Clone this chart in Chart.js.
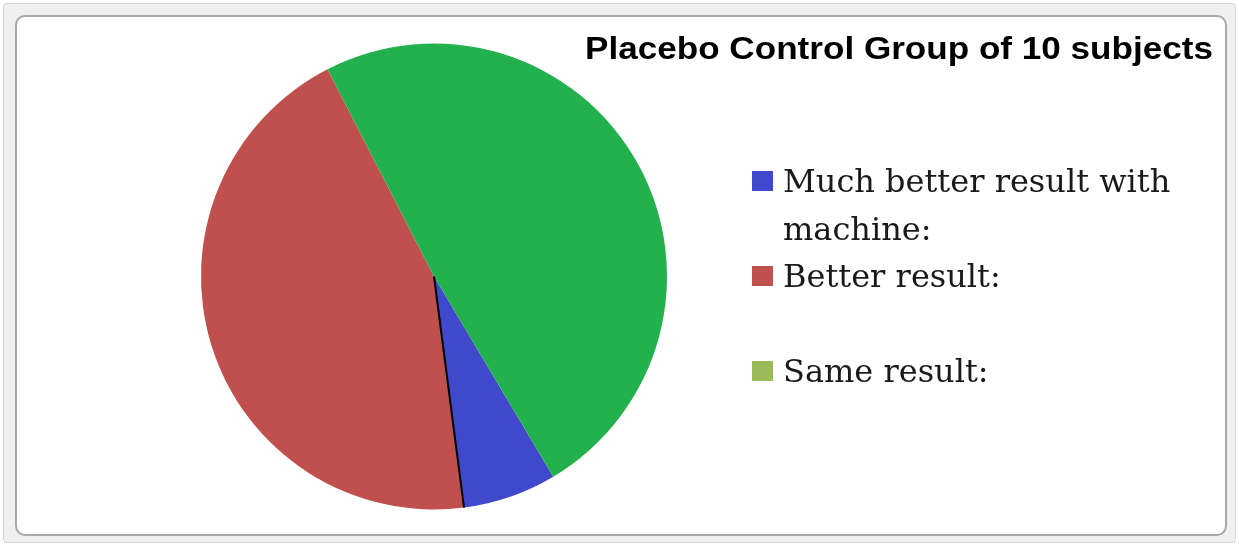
<!DOCTYPE html>
<html>
<head>
<meta charset="utf-8">
<script src="https://cdn.jsdelivr.net/npm/chart.js@4/dist/chart.umd.min.js"></script>
<style>
    html, body { margin: 0; padding: 0; background: #fff; }
    #wrap { position: relative; width: 1239px; height: 544px; overflow: hidden; }
    .outer { position: absolute; left: 3px; top: 3px; width: 1231px; height: 538px;
             background: #f0f0f0; border: 1px solid #d4d4d4; border-radius: 4px; }
    .inner { position: absolute; left: 15px; top: 15px; width: 1208px; height: 517px;
             background: #fff; border: 2px solid #a8a8a8; border-radius: 10px; }
    canvas { position: absolute; left: 0; top: 0; }
</style>
</head>
<body>
<div id="wrap">
    <div class="outer"></div>
    <div class="inner"></div>
    <canvas id="pie" width="1239" height="544"></canvas>
</div>
<script>
// Данные
const labels = [['Much better result with', 'machine:'], ['Better result:', ''], ['Same result:']];
const values = [6.5, 44.5, 49];
const sliceColors = ['#4049cc', '#c0504d', '#23b14d'];
const legendColors = ['#4049cc', '#c0504d', '#9bbb59'];
const title = 'Placebo Control Group of 10 subjects';

// Заголовок, легенда и чёрная линия на краю синего сектора
const decor = {
    id: 'decor',
    afterDatasetsDraw(chart) {
        const ctx = chart.ctx;
        const arc = chart.getDatasetMeta(0).data[0];
        ctx.save();
        ctx.strokeStyle = '#000';
        ctx.lineWidth = 2;
        ctx.beginPath();
        ctx.moveTo(arc.x, arc.y);
        ctx.lineTo(arc.x + Math.cos(arc.endAngle) * arc.outerRadius,
                   arc.y + Math.sin(arc.endAngle) * arc.outerRadius);
        ctx.stroke();
        ctx.restore();
    },
    afterDraw(chart) {
        const ctx = chart.ctx;
        ctx.save();
        ctx.fillStyle = '#000';
        ctx.font = 'bold 31px "Liberation Sans", Arial, sans-serif';
        ctx.textBaseline = 'alphabetic';
        // заголовок растянут по ширине, как в оригинале
        const w = ctx.measureText(title).width;
        ctx.save();
        ctx.translate(585, 59);
        ctx.scale(628 / w, 1);
        ctx.fillText(title, 0, 0);
        ctx.restore();

        ctx.font = '32px "DejaVu Serif", serif';
        ctx.textAlign = 'left';
        const lineH = 47.5;
        let y = 192;
        labels.forEach((lines, i) => {
            ctx.fillStyle = legendColors[i];
            ctx.fillRect(752, y - 21, 21, 20);
            ctx.fillStyle = '#1a1a1a';
            lines.forEach(t => {
                ctx.fillText(t, 783, y);
                y += lineH;
            });
        });
        ctx.restore();
    }
};

new Chart(document.getElementById('pie'), {
    type: 'pie',
    data: {
        labels: labels.map(l => l.join(' ').trim()),
        datasets: [{
            data: values,
            backgroundColor: sliceColors,
            borderWidth: 0
        }]
    },
    options: {
        responsive: false,
        animation: false,
        rotation: 149.2,
        layout: { padding: { left: 201, right: 572, top: 43, bottom: 34 } },
        plugins: {
            legend: { display: false },
            tooltip: { enabled: false }
        }
    },
    plugins: [decor]
});
</script>
</body>
</html>
